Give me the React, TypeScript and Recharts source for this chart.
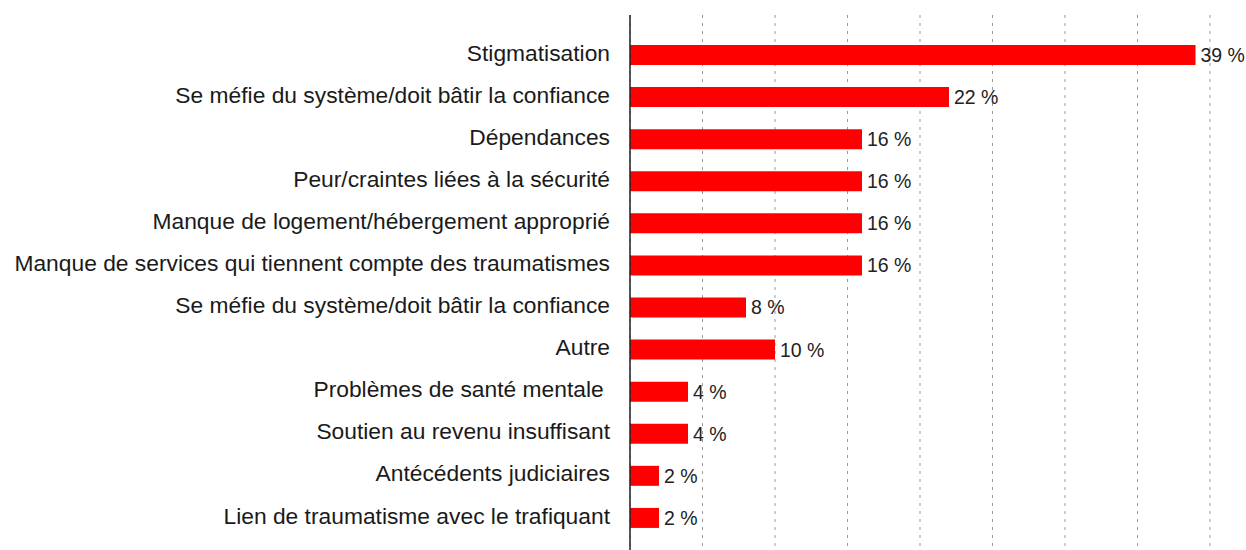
import React from "react";
import { BarChart, Bar, XAxis, YAxis, CartesianGrid, LabelList } from "recharts";

const categories = [
  "Stigmatisation",
  "Se méfie du système/doit bâtir la confiance",
  "Dépendances",
  "Peur/craintes liées à la sécurité",
  "Manque de logement/hébergement approprié",
  "Manque de services qui tiennent compte des traumatismes",
  "Se méfie du système/doit bâtir la confiance",
  "Autre",
  "Problèmes de santé mentale\u00A0",
  "Soutien au revenu insuffisant",
  "Antécédents judiciaires",
  "Lien de traumatisme avec le trafiquant",
];
const values = [39, 22, 16, 16, 16, 16, 8, 10, 4, 4, 2, 2];
const xTicks = [0, 5, 10, 15, 20, 25, 30, 35, 40];

const data = categories.map((name, i) => ({ id: i, name, value: values[i] }));

export default function App() {
  return (
    <div style={{ position: "absolute", left: 0, top: 0, width: 1246, height: 550, overflow: "hidden" }}>
      <BarChart
        width={1246}
        height={550}
        data={data}
        layout="vertical"
        margin={{ top: 15, right: 36, bottom: 0, left: 0 }}
        style={{ fontFamily: "'Liberation Sans', Arial, sans-serif" }}
      >
        <CartesianGrid horizontal={false} stroke="#999" strokeDasharray="3 5" />
        <XAxis type="number" domain={[0, 40]} ticks={xTicks} hide />
        <YAxis
          type="category"
          dataKey="id"
          width={630}
          tickFormatter={(v: number) => categories[v]}
          tickLine={false}
          tickSize={0}
          tickMargin={20}
          axisLine={{ stroke: "#222", strokeWidth: 1.5 }}
          tick={{ fill: "#1a1a1a", fontSize: 22.8, dy: -2.5 }}
          interval={0}
          padding={{ top: 19, bottom: 11 }}
        />
        <Bar dataKey="value" fill="#ff0000" barSize={20} isAnimationActive={false}>
          <LabelList
            dataKey="value"
            position="right"
            offset={5}
            formatter={(v: number) => `${v} %`}
            fill="#222"
            fontSize={19.5}
          />
        </Bar>
      </BarChart>
    </div>
  );
}
